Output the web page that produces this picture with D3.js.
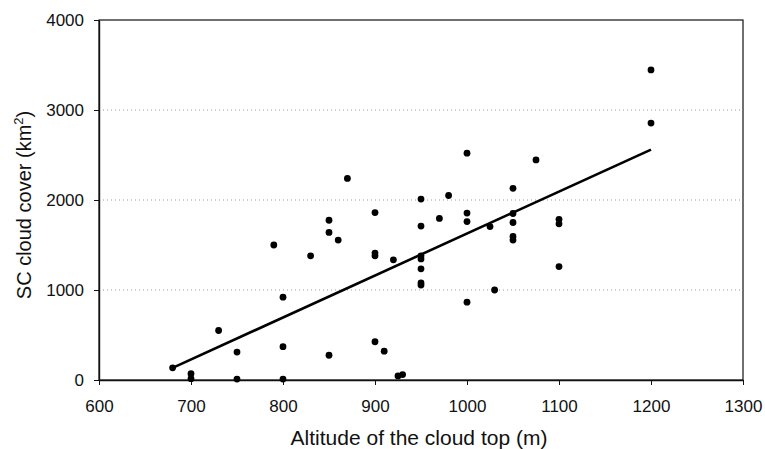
<!DOCTYPE html>
<html>
<head>
<meta charset="utf-8">
<script src="https://cdn.jsdelivr.net/npm/d3@7"></script>
<style>
  body { margin: 0; background: #fff; }
  text { font-family: "Liberation Sans", Arial, sans-serif; fill: #111; }
</style>
</head>
<body>
<div id="chart"></div>
<script>
// scatter points: altitude of cloud top (m) and SC cloud cover (km2)
const altitude = [680, 700, 700, 730, 750, 750, 790, 800, 800, 800, 830, 850, 850, 850, 860, 870,
    900, 900, 900, 900, 910, 920, 925, 930, 950, 950, 950, 950, 950, 950, 950, 970, 980,
    1000, 1000, 1000, 1000, 1025, 1030, 1050, 1050, 1050, 1050, 1050, 1075, 1100, 1100, 1100, 1200, 1200];
const cover = [135, 70, 15, 550, 310, 10, 1500, 920, 370, 10, 1380, 1775, 1640, 275, 1555, 2240,
    1860, 1410, 1380, 425, 320, 1335, 45, 60, 2010, 1710, 1380, 1345, 1235, 1080, 1055, 1795, 2050,
    2520, 1855, 1760, 865, 1705, 1000, 2130, 1850, 1750, 1595, 1555, 2445, 1785, 1735, 1260, 3445, 2855];

// linear trend line end points
const fitX = [680, 1200];
const fitY = [135, 2560];

const xTicks = [600, 700, 800, 900, 1000, 1100, 1200, 1300];
const yTicks = [0, 1000, 2000, 3000, 4000];

let svgWidth = 765;
let svgHeight = 449;
let margin = { top: 20, bottom: 69, left: 99, right: 22 };
let width = svgWidth - margin.left - margin.right;
let height = svgHeight - margin.top - margin.bottom;

let svg = d3.select("#chart")
    .append("svg")
    .attr("width", svgWidth)
    .attr("height", svgHeight);

let chartGroup = svg.append("g")
    .attr("transform", `translate(${margin.left},${margin.top})`);

let x = d3.scaleLinear().domain([600, 1300]).range([0, width]);
let y = d3.scaleLinear().domain([0, 4000]).range([height, 0]);

// dotted grid lines
chartGroup.append("g")
    .selectAll("line")
    .data(yTicks.filter(d => d > 0 && d < 4000))
    .enter()
    .append("line")
    .attr("x1", 0)
    .attr("x2", width)
    .attr("y1", d => y(d))
    .attr("y2", d => y(d))
    .attr("stroke", "#999")
    .attr("stroke-width", 1)
    .attr("stroke-dasharray", "1,3");

// plot border
chartGroup.append("rect")
    .attr("x", 0)
    .attr("y", 0)
    .attr("width", width)
    .attr("height", height)
    .attr("fill", "none")
    .attr("stroke", "#111")
    .attr("stroke-width", 1.2);

// axes
let bottomAxis = d3.axisBottom(x).tickValues(xTicks).tickFormat(d3.format("d"))
    .tickSize(5).tickSizeOuter(0).tickPadding(15);
let leftAxis = d3.axisLeft(y).tickValues(yTicks).tickFormat(d3.format("d"))
    .tickSize(5).tickSizeOuter(0).tickPadding(10);

let gx = chartGroup.append("g")
    .attr("transform", `translate(0,${height})`)
    .call(bottomAxis);
let gy = chartGroup.append("g")
    .call(leftAxis);

[gx, gy].forEach(g => {
    g.select(".domain").attr("stroke", "#111").attr("stroke-width", 1.4);
    g.selectAll(".tick line").attr("stroke", "#111");
    g.selectAll(".tick text")
        .attr("font-size", "17px")
        .attr("font-family", "Liberation Sans, Arial, sans-serif")
        .attr("fill", "#111");
});

// trend line
chartGroup.append("line")
    .attr("x1", x(fitX[0]))
    .attr("y1", y(fitY[0]))
    .attr("x2", x(fitX[1]))
    .attr("y2", y(fitY[1]))
    .attr("stroke", "#000")
    .attr("stroke-width", 2.6);

// points
chartGroup.selectAll("circle")
    .data(altitude.map((a, i) => ({ a: a, c: cover[i] })))
    .enter()
    .append("circle")
    .attr("cx", d => x(d.a))
    .attr("cy", d => y(d.c))
    .attr("r", 3.4)
    .attr("fill", "#000");

// axis titles
chartGroup.append("text")
    .attr("x", width / 2 - 2)
    .attr("y", height + 65)
    .attr("text-anchor", "middle")
    .attr("font-size", "21px")
    .text("Altitude of the cloud top (m)");

let yTitle = svg.append("text")
    .attr("transform", `translate(31,${margin.top + height / 2 + 5}) rotate(-90)`)
    .attr("text-anchor", "middle")
    .attr("font-size", "20px");
yTitle.append("tspan").text("SC cloud cover (km");
yTitle.append("tspan").attr("font-size", "13px").attr("dy", "-8").text("2");
yTitle.append("tspan").attr("dy", "8").text(")");
</script>
</body>
</html>
